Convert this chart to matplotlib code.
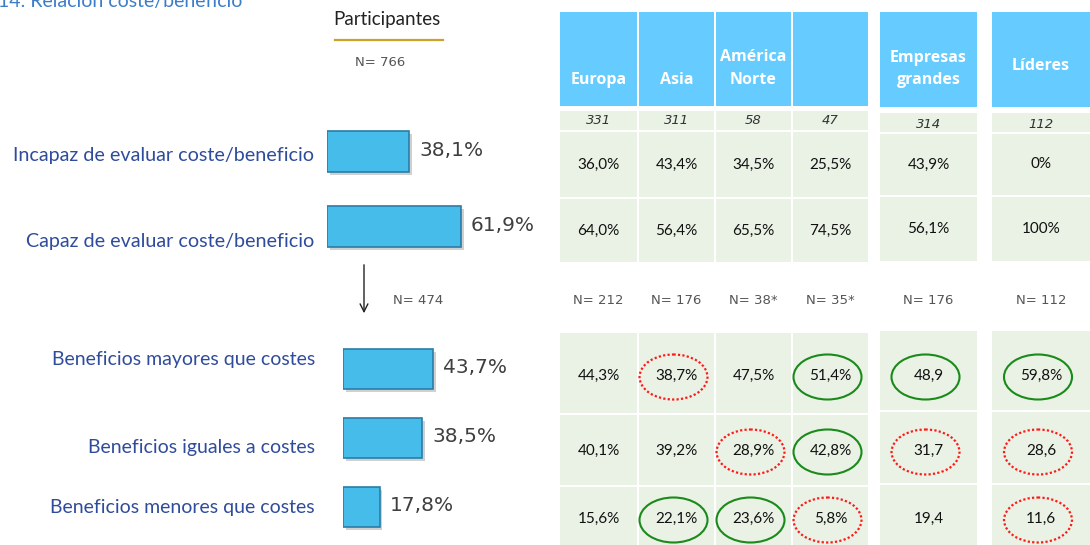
import matplotlib
matplotlib.use("Agg")
import matplotlib.pyplot as plt
from matplotlib.patches import Rectangle, Ellipse
import matplotlib.patheffects as pe

# ---------------- data ----------------
top_categories = ["Incapaz de evaluar coste/beneficio", "Capaz de evaluar coste/beneficio"]
top_values = [38.1, 61.9]
top_labels = ["38,1%", "61,9%"]

bottom_categories = ["Beneficios mayores que costes", "Beneficios iguales a costes",
                     "Beneficios menores que costes"]
bottom_values = [43.7, 38.5, 17.8]
bottom_labels = ["43,7%", "38,5%", "17,8%"]

title = "14: Relación coste/beneficio"
participants_title = "Participantes"
n_total = "N= 766"
n_able = "N= 474"

col_headers = ["Europa", "Asia", "América\nNorte", "", "Empresas\ngrandes", "Líderes"]
col_n = ["331", "311", "58", "47", "314", "112"]
row_unable = ["36,0%", "43,4%", "34,5%", "25,5%", "43,9%", "0%"]
row_able = ["64,0%", "56,4%", "65,5%", "74,5%", "56,1%", "100%"]
col_n2 = ["N= 212", "N= 176", "N= 38*", "N= 35*", "N= 176", "N= 112"]
row_greater = ["44,3%", "38,7%", "47,5%", "51,4%", "48,9", "59,8%"]
row_equal = ["40,1%", "39,2%", "28,9%", "42,8%", "31,7", "28,6"]
row_less = ["15,6%", "22,1%", "23,6%", "5,8%", "19,4", "11,6"]
# significance marks: g = significantly higher (green), r = lower (red dotted)
marks_greater = ["", "r", "", "g", "g", "g"]
marks_equal = ["", "", "r", "g", "r", "r"]
marks_less = ["", "g", "g", "r", "", "r"]

# ---------------- style ----------------
W, H = 1090, 545
HEADER_C = "#66CCFF"
CELL_C = "#EAF2E5"
BAR_C = "#46BCEA"
BAR_EDGE = "#2B7DA6"
LABEL_C = "#2F4C9C"
VAL_C = "#3F3F3F"
GREEN = "#1A8A1A"
RED = "#FF1A1A"

fig = plt.figure(figsize=(W / 100, H / 100), dpi=100)
ax = fig.add_axes([0, 0, 1, 1])
ax.set_xlim(0, W)
ax.set_ylim(H, 0)
ax.axis("off")

# title & participants header
ax.text(-2, 2, title, fontsize=14, color="#3C7DC9", family="Lato", va="center", ha="left")
ax.text(387, 20, participants_title, fontsize=13.5, color="#222222", family="Lato",
        ha="center", va="center")
ax.plot([335, 443], [40, 40], color="#C9A227", lw=1.6)
ax.text(380, 62, n_total, fontsize=9.5, color="#555555", family="DejaVu Sans",
        ha="center", va="center")

# left category labels
top_label_y = [155, 242]
bottom_label_y = [360, 447, 507]
for t, y in zip(top_categories, top_label_y):
    ax.text(314, y, t, fontsize=14.2, color=LABEL_C, family="Lato", ha="right", va="center")
for t, y in zip(bottom_categories, bottom_label_y):
    ax.text(315, y, t, fontsize=14, color=LABEL_C, family="Lato", ha="right", va="center")

# arrow + N
ax.annotate("", xy=(364, 316), xytext=(364, 262),
            arrowprops=dict(arrowstyle="->", color="#222222", lw=1.0,
                            mutation_scale=14))
ax.text(393, 301, n_able, fontsize=9.5, color="#555555", family="DejaVu Sans",
        ha="left", va="center")

# ---------------- bars ----------------
def fig_rect(x0, y0, x1, y1):
    return [x0 / W, 1 - y1 / H, (x1 - x0) / W, (y1 - y0) / H]

shadow = [pe.SimplePatchShadow(offset=(2, -2), alpha=0.3, shadow_rgbFace="#666666"), pe.Normal()]

axt = fig.add_axes(fig_rect(327, 114, 327 + 216.5, 264))
axt.set_xlim(0, 100)
axt.set_ylim(len(top_values) - 0.5, -0.5)
axt.axis("off")
bars = axt.barh(range(len(top_values)), top_values, height=0.55, color=BAR_C,
                edgecolor=BAR_EDGE, linewidth=1.2)
for b in bars:
    b.set_path_effects(shadow)
for i, (v, l) in enumerate(zip(top_values, top_labels)):
    axt.annotate(l, xy=(v, i), xytext=(7, 1), textcoords="offset points", va="center",
                 ha="left", fontsize=14.5, color=VAL_C, family="DejaVu Sans")

axb = fig.add_axes(fig_rect(343, 334.5, 343 + 206, 541.5))
axb.set_xlim(0, 100)
axb.set_ylim(len(bottom_values) - 0.5, -0.5)
axb.axis("off")
bars = axb.barh(range(len(bottom_values)), bottom_values, height=0.58, color=BAR_C,
                edgecolor=BAR_EDGE, linewidth=1.2)
for b in bars:
    b.set_path_effects(shadow)
for i, (v, l) in enumerate(zip(bottom_values, bottom_labels)):
    axb.annotate(l, xy=(v, i), xytext=(7, 1), textcoords="offset points", va="center",
                 ha="left", fontsize=14.5, color=VAL_C, family="DejaVu Sans")

# ---------------- table ----------------
cols = [(560, 637), (639, 714), (716, 791), (793, 868), (880, 977), (992, 1090)]
rows_region = {"head": (12, 106), "n": (111, 130), "r1": (132, 197), "r2": (199, 262),
               "r3": (333, 413), "r4": (415, 485), "r5": (487, 545)}
rows_seg = {"head": (12, 107), "n": (113, 132), "r1": (134, 195), "r2": (197, 261),
            "r3": (331, 410), "r4": (412, 483), "r5": (485, 545)}

for ci, (x0, x1) in enumerate(cols):
    rows = rows_region if ci < 4 else rows_seg
    xc = (x0 + x1) / 2
    for key, (y0, y1) in rows.items():
        color = HEADER_C if key == "head" else CELL_C
        ax.add_patch(Rectangle((x0, y0), x1 - x0, y1 - y0, facecolor=color,
                               edgecolor="none", zorder=1))
    if ci < 4:
        ax.text(xc, 88, col_headers[ci], color="white", fontsize=11.5, weight="bold",
                family="Open Sans", ha="center", va="bottom", linespacing=1.55, zorder=3)
    else:
        ax.text(xc, 69 if ci == 4 else 66, col_headers[ci], color="white", fontsize=11.5,
                weight="bold", family="Open Sans", ha="center", va="center",
                linespacing=1.55, zorder=3)
    ny = sum(rows["n"]) / 2 + (0 if ci < 4 else 2)
    ax.text(xc, ny, col_n[ci], fontsize=9.5, style="italic", color="#333333",
            family="DejaVu Sans", ha="center", va="center", zorder=3)
    for key, vals in (("r1", row_unable), ("r2", row_able)):
        y = sum(rows[key]) / 2
        ax.text(xc, y, vals[ci], fontsize=11, color="#111111", family="Lato",
                ha="center", va="center", zorder=3)
    ax.text(xc, 301, col_n2[ci], fontsize=9.5, color="#555555", family="DejaVu Sans",
            ha="center", va="center", zorder=3)
    for key, vals, marks, ty in (("r3", row_greater, marks_greater, 376),
                                 ("r4", row_equal, marks_equal, 451),
                                 ("r5", row_less, marks_less, 519)):
        ax.text(xc, ty, vals[ci], fontsize=11, color="#111111", family="Lato",
                ha="center", va="center", zorder=3)
        m = marks[ci]
        if m:
            ey = ty + 1
            if m == "g":
                e = Ellipse((xc - 3, ey), 68, 45, facecolor="none", edgecolor=GREEN,
                            lw=1.5, zorder=4)
            else:
                e = Ellipse((xc - 3, ey), 68, 45, facecolor="none", edgecolor=RED,
                            lw=1.6, linestyle=(0, (1, 1)), zorder=4)
            ax.add_patch(e)

fig.savefig("out.png", dpi=100)
